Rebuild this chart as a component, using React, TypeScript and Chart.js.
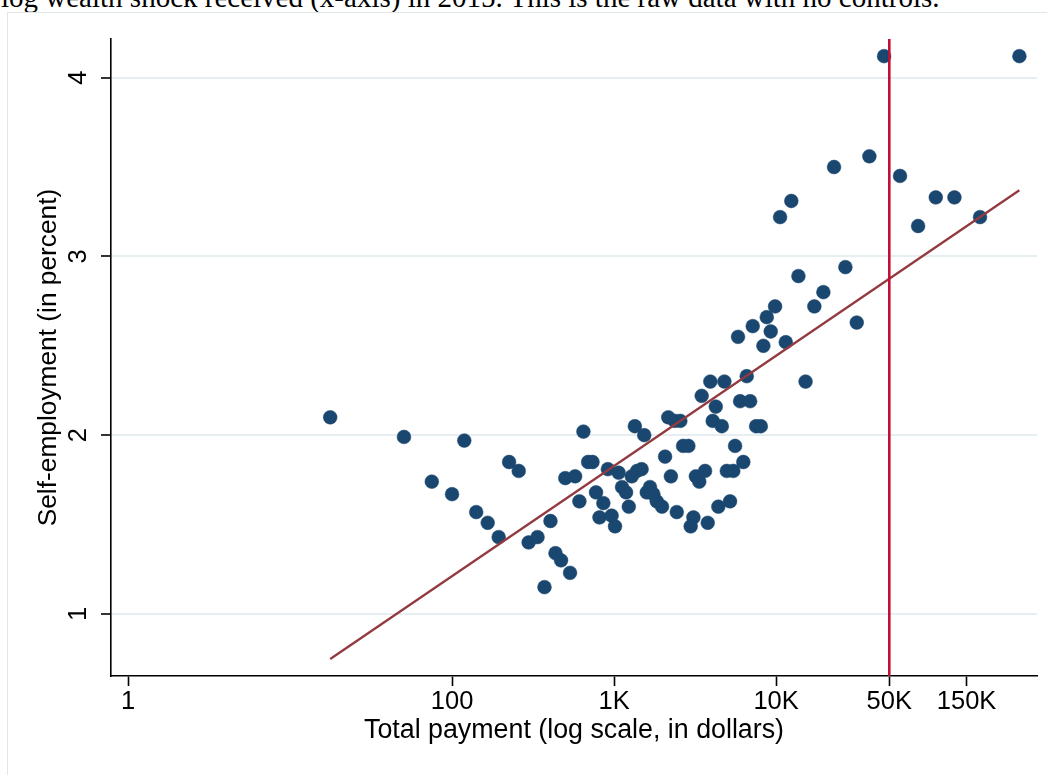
import React, { useEffect, useRef } from "react";
import { Chart, registerables } from "chart.js";

Chart.register(...registerables);

const caption =
  "log wealth shock received (x-axis) in 2015. This is the raw data with no controls.";
const xTitle = "Total payment (log scale, in dollars)";
const yTitle = "Self-employment (in percent)";

const xTickValues = [1, 100, 1000, 10000, 50000, 150000];
const xTickLabels = ["1", "100", "1K", "10K", "50K", "150K"];
const yTickValues = [1, 2, 3, 4];
const yTickLabels = ["1", "2", "3", "4"];

const xMin = 0.785;
const xMax = 408000;
const yMin = 0.653;
const yMax = 4.216;

// Total payment (dollars), one value per bin
const payment = [
  17.7, 50.5, 119, 75, 100, 141, 166, 194, 225, 258,
  297, 337, 372, 405, 435, 471, 535, 647, 500, 575,
  611, 692, 736, 774, 859, 813, 966, 1014, 916, 1067,
  1120, 1186, 1233, 1286, 1387, 1479, 1344, 1536, 1592, 1667,
  1749, 1835, 1977, 2161, 2372, 2565, 2065, 2667, 2876, 2243,
  2438, 3090, 2972, 3199, 3357, 3645, 3787, 4403, 5200, 4966,
  5445, 5585, 6280, 4064, 4624, 4246, 3475, 6000, 6918, 3928,
  4797, 6592, 7534, 8050, 5824, 7178, 8764, 9862, 9270, 8350,
  11480, 13740, 15210, 17230, 19590, 26790, 31480, 10590, 12420, 22800,
  37670, 46420, 58240, 75300, 96800, 126200, 181600, 317700,
];

// Self-employment (percent), matching payment
const selfEmployment = [
  2.10, 1.99, 1.97, 1.74, 1.67, 1.57, 1.51, 1.43, 1.85, 1.80,
  1.40, 1.43, 1.15, 1.52, 1.34, 1.30, 1.23, 2.02, 1.76, 1.77,
  1.63, 1.85, 1.85, 1.68, 1.62, 1.54, 1.55, 1.49, 1.81, 1.79,
  1.71, 1.68, 1.60, 1.77, 1.80, 1.81, 2.05, 2.00, 1.68, 1.71,
  1.67, 1.63, 1.60, 2.10, 2.08, 2.08, 1.88, 1.94, 1.94, 1.77,
  1.57, 1.54, 1.49, 1.77, 1.74, 1.80, 1.51, 1.60, 1.63, 1.80,
  1.80, 1.94, 1.85, 2.08, 2.05, 2.16, 2.22, 2.19, 2.19, 2.30,
  2.30, 2.33, 2.05, 2.05, 2.55, 2.61, 2.66, 2.72, 2.58, 2.50,
  2.52, 2.89, 2.30, 2.72, 2.80, 2.94, 2.63, 3.22, 3.31, 3.50,
  3.56, 4.12, 3.45, 3.17, 3.33, 3.33, 3.22, 4.12,
];

// Linear fit endpoints
const fitX = [17.7, 317700];
const fitY = [0.748, 3.37];

// Vertical reference line
const cutoffX = 50000;

const FONT = '"Liberation Sans", Arial, Helvetica, sans-serif';

export default function App() {
  const canvasRef = useRef<HTMLCanvasElement | null>(null);

  useEffect(() => {
    const canvas = canvasRef.current;
    if (!canvas) return;
    const points = payment.map((x, i) => ({ x, y: selfEmployment[i] }));
    const fit = fitX.map((x, i) => ({ x, y: fitY[i] }));
    const vline = [
      { x: cutoffX, y: yMin },
      { x: cutoffX, y: yMax },
    ];
    const chart = new Chart(canvas, {
      type: "scatter",
      data: {
        datasets: [
          {
            data: vline,
            showLine: true,
            borderColor: "#c20f35",
            borderWidth: 2.6,
            pointRadius: 0,
          } as any,
          {
            data: fit,
            showLine: true,
            borderColor: "#933a40",
            borderWidth: 2.3,
            pointRadius: 0,
          } as any,
          {
            data: points,
            backgroundColor: "#1a476f",
            borderColor: "#1a476f",
            borderWidth: 0.5,
            pointRadius: 6.9,
            pointHoverRadius: 6.9,
          },
        ],
      },
      options: {
        responsive: false,
        animation: false,
        devicePixelRatio: 1,
        layout: { padding: { left: 0, top: 39, right: 10, bottom: 0 } },
        plugins: {
          legend: { display: false },
          tooltip: { enabled: false },
        },
        scales: {
          x: {
            type: "logarithmic",
            min: xMin,
            max: xMax,
            afterBuildTicks: (s: any) => {
              s.ticks = xTickValues.map((v) => ({ value: v }));
            },
            afterFit: (s: any) => {
              s.height = 99;
            },
            ticks: {
              autoSkip: false,
              maxRotation: 0,
              minRotation: 0,
              padding: 1,
              color: "#000",
              font: { family: FONT, size: 25.5 },
              callback: (_v: any, i: number) => xTickLabels[i],
            },
            grid: {
              display: true,
              drawOnChartArea: false,
              drawTicks: true,
              tickLength: 10,
              tickColor: "#000",
              tickWidth: 1.6,
            },
            border: { display: true, color: "#000", width: 1.6 },
            title: {
              display: true,
              text: xTitle,
              color: "#000",
              font: { family: FONT, size: 26.8 },
              padding: { top: 0, bottom: 28 },
            },
          },
          y: {
            type: "linear",
            min: yMin,
            max: yMax,
            afterBuildTicks: (s: any) => {
              s.ticks = yTickValues.map((v) => ({ value: v }));
            },
            afterFit: (s: any) => {
              s.width = 111;
            },
            ticks: {
              autoSkip: false,
              minRotation: 90,
              maxRotation: 90,
              crossAlign: "center",
              padding: 15,
              color: "#000",
              font: { family: FONT, size: 25.5 },
              callback: (_v: any, i: number) => yTickLabels[i],
            },
            grid: {
              display: true,
              drawOnChartArea: true,
              color: "#e6eef1",
              lineWidth: 2,
              drawTicks: true,
              tickLength: 10,
              tickColor: "#000",
              tickWidth: 1.6,
            },
            border: { display: true, color: "#000", width: 1.6 },
            title: {
              display: true,
              text: yTitle,
              color: "#000",
              font: { family: FONT, size: 26.3 },
              padding: { top: 33, bottom: 0 },
            },
          },
        },
      },
    });
    return () => chart.destroy();
  }, []);

  return (
    <div
      style={{
        position: "fixed",
        left: 0,
        top: 0,
        width: 1047,
        height: 775,
        overflow: "hidden",
        background: "#fff",
      }}
    >
      <div
        style={{
          position: "absolute",
          left: 1,
          top: -17,
          fontFamily: '"Liberation Serif", "Times New Roman", serif',
          fontSize: 29,
          lineHeight: "29px",
          whiteSpace: "nowrap",
          color: "#000",
        }}
      >
        {caption}
      </div>
      <div
        style={{
          position: "absolute",
          left: 7,
          top: 12,
          width: 1100,
          height: 900,
          border: "1px solid #dfe7ea",
        }}
      />
      <canvas
        ref={canvasRef}
        width={1047}
        height={775}
        style={{ position: "absolute", left: 0, top: 0, width: 1047, height: 775 }}
      />
    </div>
  );
}
